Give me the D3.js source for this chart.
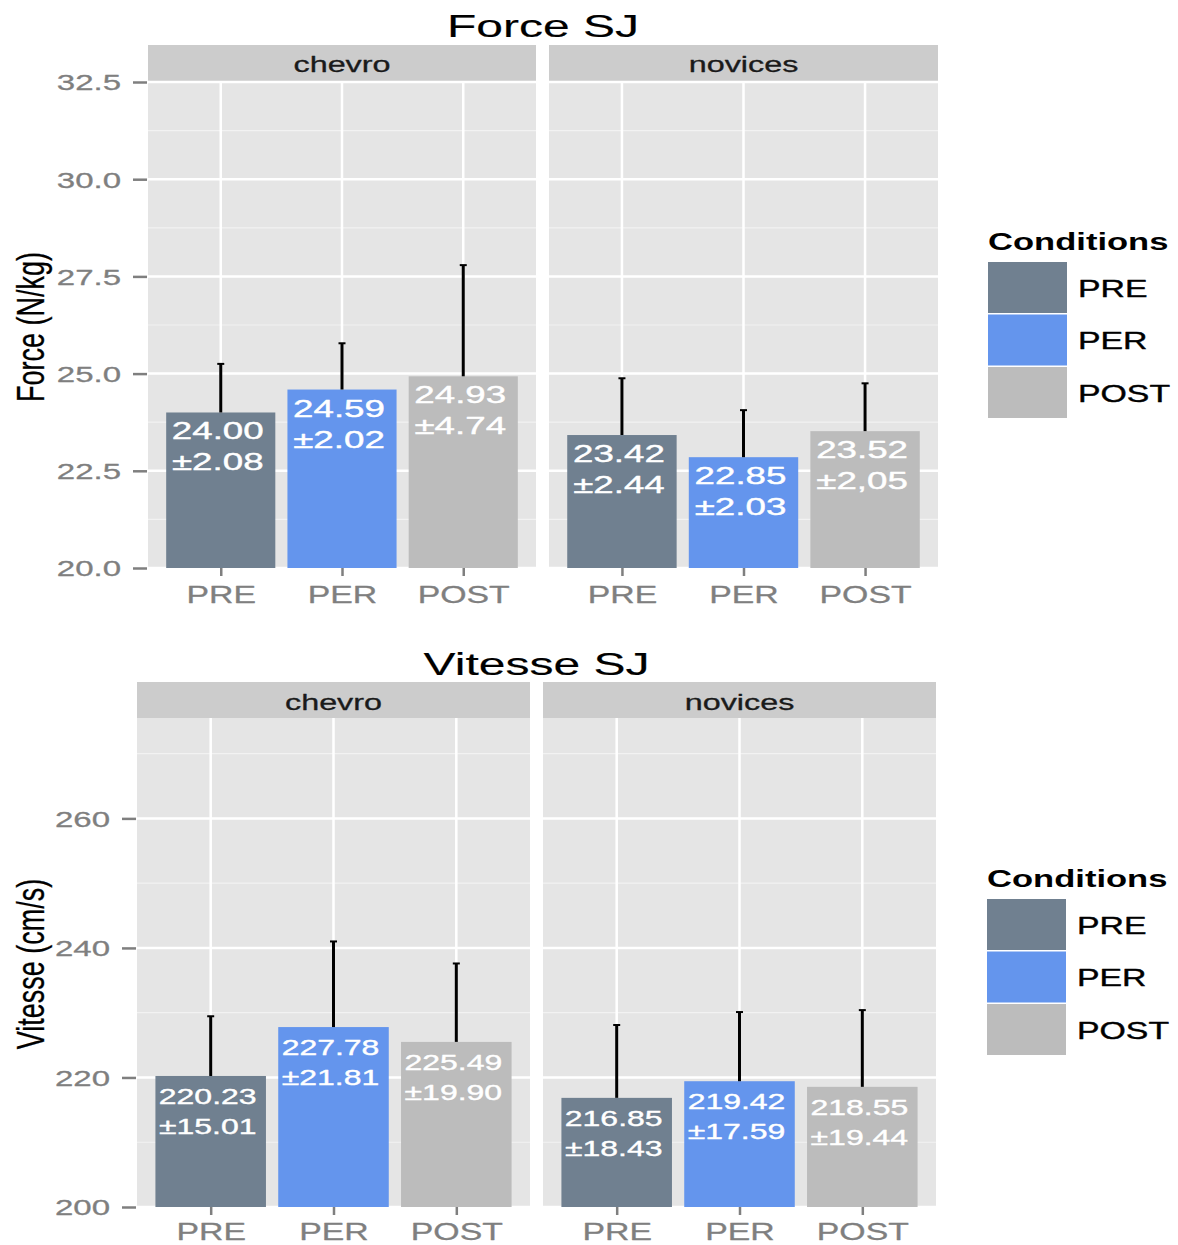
<!DOCTYPE html>
<html>
<head>
<meta charset="utf-8">
<script src="https://cdn.jsdelivr.net/npm/d3@7"></script>
<style>
  body { margin: 0; background: #ffffff; }
  svg { display: block; font-family: "Liberation Sans", Arial, Helvetica, sans-serif; }
  text { paint-order: stroke; }
</style>
</head>
<body>
<svg id="chart" width="1178" height="1245"></svg>
<script>
// ---------- data ----------
const conditions = ["PRE", "PER", "POST"];
const facets = ["chevro", "novices"];
const condColors = ["#708090", "#6495ED", "#BCBCBC"];

const forceChevroMean = [24.00, 24.59, 24.93];
const forceChevroSD = ["±2.08", "±2.02", "±4.74"];
const forceChevroErrTop = [25.25, 25.78, 27.79];
const forceNovicesMean = [23.42, 22.85, 23.52];
const forceNovicesSD = ["±2.44", "±2.03", "±2,05"];
const forceNovicesErrTop = [24.88, 24.06, 24.75];
const forceTicks = [20.0, 22.5, 25.0, 27.5, 30.0, 32.5];
const forceMinorTicks = [21.25, 23.75, 26.25, 28.75, 31.25];

const vitesseChevroMean = [220.23, 227.78, 225.49];
const vitesseChevroSD = ["±15.01", "±21.81", "±19.90"];
const vitesseChevroErrTop = [229.45, 241.0, 237.6];
const vitesseNovicesMean = [216.85, 219.42, 218.55];
const vitesseNovicesSD = ["±18.43", "±17.59", "±19.44"];
const vitesseNovicesErrTop = [228.1, 230.1, 230.4];
const vitesseTicks = [200, 220, 240, 260];
const vitesseMinorTicks = [210, 230, 250, 270];

// ---------- drawing ----------
const SX = 1.47; // horizontal text stretch seen in the reference
const svg = d3.select("#chart");

function heavy(sel, color, w) {
  return sel.attr("stroke", color).attr("stroke-width", w).attr("stroke-linejoin", "round");
}

function drawChart(cfg) {
  const g = svg.append("g");
  const y = d3.scaleLinear().domain(cfg.domain).range([cfg.panelBottom, cfg.panelTop]);
  const panelsX0 = cfg.panels[0][0], panelsX1 = cfg.panels[cfg.panels.length - 1][1];

  // title
  heavy(g.append("text")
    .attr("transform", `translate(${(panelsX0 + panelsX1) / 2},${cfg.titleY}) scale(1.5,1)`)
    .attr("text-anchor", "middle").attr("font-size", cfg.titleSize).attr("fill", "#000")
    .text(cfg.title), "#000", 0.15);

  // y axis title
  heavy(g.append("text")
    .attr("transform", `translate(${cfg.yTitleX},${cfg.yTitleY}) scale(${SX},1) rotate(-90)`)
    .attr("text-anchor", "middle").attr("font-size", cfg.yTitleSize).attr("fill", "#000")
    .text(cfg.yTitle), "#000", 0.2);

  // y axis (left of first panel)
  const yAxis = d3.axisLeft(y).tickValues(cfg.ticks).tickFormat(d3.format(cfg.fmt))
    .tickSize(cfg.tickLen).tickPadding(0);
  const ya = g.append("g").attr("transform", `translate(${panelsX0 - 1},0)`).call(yAxis);
  ya.select(".domain").remove();
  ya.selectAll(".tick line").attr("stroke", "#7F7F7F").attr("stroke-width", 2.5);
  heavy(ya.selectAll(".tick text")
    .attr("x", 0).attr("dy", null)
    .attr("transform", `translate(${-(panelsX0 - cfg.tickLabelRight)},${cfg.tickLabelSize * 0.36}) scale(1.5,1)`)
    .attr("font-size", cfg.tickLabelSize).attr("fill", "#7F7F7F")
    .attr("font-family", null).attr("text-anchor", "end"), "#7F7F7F", 0.3);

  cfg.panels.forEach((px, fi) => {
    const x = d3.scalePoint().domain(conditions).range(px).padding(0.6);
    const bw = x.step() * 0.9;
    const pg = g.append("g");

    // strip
    pg.append("rect").attr("x", px[0]).attr("y", cfg.stripTop)
      .attr("width", px[1] - px[0]).attr("height", cfg.panelTop - cfg.stripTop).attr("fill", "#CCCCCC");
    heavy(pg.append("text")
      .attr("transform", `translate(${(px[0] + px[1]) / 2},${cfg.stripTextY}) scale(${SX},1)`)
      .attr("text-anchor", "middle").attr("font-size", cfg.stripSize).attr("fill", "#1a1a1a")
      .text(facets[fi]), "#1a1a1a", 0.3);

    // panel
    pg.append("rect").attr("x", px[0]).attr("y", cfg.panelTop)
      .attr("width", px[1] - px[0]).attr("height", cfg.panelBottom - cfg.panelTop).attr("fill", "#E5E5E5");
    pg.selectAll(".minor").data(cfg.minor).join("line")
      .attr("x1", px[0]).attr("x2", px[1]).attr("y1", d => y(d)).attr("y2", d => y(d))
      .attr("stroke", "#F2F2F2").attr("stroke-width", 1.2);
    pg.selectAll(".major").data(cfg.ticks).join("line")
      .attr("x1", px[0]).attr("x2", px[1]).attr("y1", d => y(d)).attr("y2", d => y(d))
      .attr("stroke", "#FFFFFF").attr("stroke-width", 2.5);
    pg.selectAll(".vgrid").data(conditions).join("line")
      .attr("x1", d => x(d)).attr("x2", d => x(d)).attr("y1", cfg.panelTop).attr("y2", cfg.panelBottom)
      .attr("stroke", "#FFFFFF").attr("stroke-width", 2.5);

    const means = cfg.means[fi], sds = cfg.sds[fi], errs = cfg.errs[fi];

    // bars
    pg.selectAll(".bar").data(conditions).join("rect")
      .attr("x", d => x(d) - bw / 2).attr("width", bw)
      .attr("y", (d, i) => y(means[i])).attr("height", (d, i) => y(cfg.domain[0]) - y(means[i]))
      .attr("fill", (d, i) => condColors[i]);

    // error bars (upper part)
    pg.selectAll(".err").data(conditions).join("line")
      .attr("x1", d => x(d)).attr("x2", d => x(d))
      .attr("y1", (d, i) => y(means[i])).attr("y2", (d, i) => y(errs[i]))
      .attr("stroke", "#000").attr("stroke-width", 3);
    pg.selectAll(".cap").data(conditions).join("line")
      .attr("x1", d => x(d) - 3.5).attr("x2", d => x(d) + 3.5)
      .attr("y1", (d, i) => y(errs[i])).attr("y2", (d, i) => y(errs[i]))
      .attr("stroke", "#000").attr("stroke-width", 2);

    // value labels
    conditions.forEach((c, i) => {
      const top = y(means[i]);
      heavy(pg.append("text")
        .attr("transform", `translate(${x(c) - 3},${top + cfg.labelOff1}) scale(${cfg.labelSX},1)`)
        .attr("text-anchor", "middle").attr("font-size", cfg.labelSize).attr("fill", "#FFFFFF")
        .text(means[i].toFixed(2)), "#FFFFFF", 0.4);
      heavy(pg.append("text")
        .attr("transform", `translate(${x(c) - 3},${top + cfg.labelOff2}) scale(${cfg.labelSX},1)`)
        .attr("text-anchor", "middle").attr("font-size", cfg.labelSize).attr("fill", "#FFFFFF")
        .text(sds[i]), "#FFFFFF", 0.4);
    });

    // x axis
    const xAxis = d3.axisBottom(x).tickSize(8).tickPadding(0);
    const xa = pg.append("g").attr("transform", `translate(0,${cfg.panelBottom})`).call(xAxis);
    xa.select(".domain").remove();
    xa.selectAll(".tick line").attr("stroke", "#7F7F7F").attr("stroke-width", 2.5);
    heavy(xa.selectAll(".tick text")
      .attr("y", 0).attr("dy", null)
      .attr("transform", `translate(0,${cfg.xLabelY - cfg.panelBottom}) scale(${SX},1)`)
      .attr("font-size", cfg.xLabelSize).attr("fill", "#7F7F7F").attr("font-family", null), "#7F7F7F", 0.3);
  });

  // legend
  const lg = g.append("g");
  lg.append("text")
    .attr("transform", `translate(${cfg.legendX},${cfg.legendTitleY}) scale(1.44,1)`)
    .attr("font-size", 24).attr("font-weight", "bold").attr("fill", "#000")
    .text("Conditions");
  const keyH = 52.5, keyW = 79;
  lg.selectAll(".key").data(conditions).join("rect")
    .attr("x", cfg.legendX).attr("y", (d, i) => cfg.keyTop + i * keyH)
    .attr("width", keyW).attr("height", keyH - 1.5)
    .attr("fill", (d, i) => condColors[i]);
  heavy(lg.selectAll(".klab").data(conditions).join("text")
    .attr("transform", (d, i) => `translate(${cfg.legendX + keyW + 11},${cfg.keyTop + i * keyH + keyH / 2 + 8.5}) scale(${SX},1)`)
    .attr("font-size", 23).attr("fill", "#000")
    .text(d => d), "#000", 0.4);
}

drawChart({
  title: "Force SJ", titleY: 37, titleSize: 32,
  yTitle: "Force (N/kg)", yTitleX: 44, yTitleY: 327, yTitleSize: 27,
  panels: [[148, 536], [549, 938]],
  stripTop: 45, panelTop: 82, panelBottom: 568, stripTextY: 72, stripSize: 22,
  domain: [20, 32.5], ticks: forceTicks, minor: forceMinorTicks, fmt: ".1f",
  tickLen: 14, tickLabelRight: 122, tickLabelSize: 22,
  xLabelY: 603, xLabelSize: 23,
  means: [forceChevroMean, forceNovicesMean],
  sds: [forceChevroSD, forceNovicesSD],
  errs: [forceChevroErrTop, forceNovicesErrTop],
  labelSize: 24, labelSX: 1.53, labelOff1: 27, labelOff2: 58,
  legendX: 988, legendTitleY: 250, keyTop: 262
});

drawChart({
  title: "Vitesse SJ", titleY: 675, titleSize: 32,
  yTitle: "Vitesse (cm/s)", yTitleX: 44, yTitleY: 964, yTitleSize: 27,
  panels: [[137, 530], [543, 936]],
  stripTop: 682, panelTop: 718, panelBottom: 1207, stripTextY: 710, stripSize: 22,
  domain: [200, 275.5], ticks: vitesseTicks, minor: vitesseMinorTicks, fmt: "d",
  tickLen: 14, tickLabelRight: 111, tickLabelSize: 22,
  xLabelY: 1240, xLabelSize: 23,
  means: [vitesseChevroMean, vitesseNovicesMean],
  sds: [vitesseChevroSD, vitesseNovicesSD],
  errs: [vitesseChevroErrTop, vitesseNovicesErrTop],
  labelSize: 22.5, labelSX: 1.42, labelOff1: 28, labelOff2: 58,
  legendX: 987, legendTitleY: 887, keyTop: 899
});
</script>
</body>
</html>
